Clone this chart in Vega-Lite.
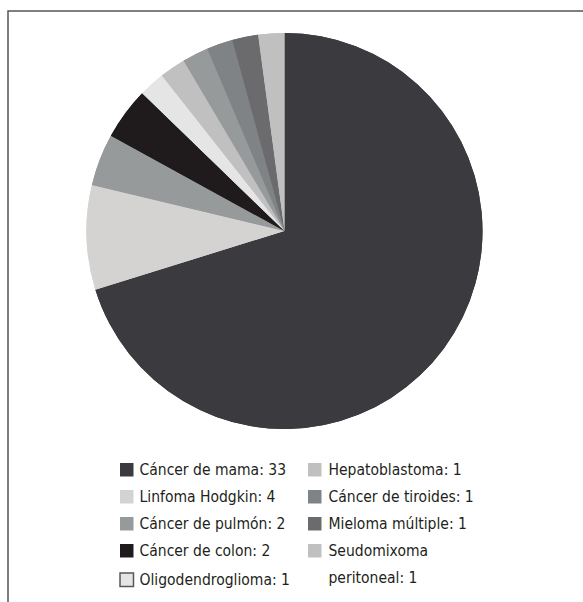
{
  "$schema": "https://vega.github.io/schema/vega-lite/v6.json",
  "autosize": "none",
  "padding": {"left": 8, "top": 11, "right": 0, "bottom": 0},
  "width": 600,
  "height": 620,
  "background": "white",
  "view": {"stroke": "#555555", "strokeWidth": 1.5},
  "data": {
    "values": [
      {"tipo": "Cáncer de mama: 33", "n": 33, "orden": 1},
      {"tipo": "Linfoma Hodgkin: 4", "n": 4, "orden": 2},
      {"tipo": "Cáncer de pulmón: 2", "n": 2, "orden": 3},
      {"tipo": "Cáncer de colon: 2", "n": 2, "orden": 4},
      {"tipo": "Oligodendroglioma: 1", "n": 1, "orden": 5},
      {"tipo": "Hepatoblastoma: 1", "n": 1, "orden": 6},
      {"tipo": "Otro: 1", "n": 1, "orden": 7},
      {"tipo": "Cáncer de tiroides: 1", "n": 1, "orden": 8},
      {"tipo": "Mieloma múltiple: 1", "n": 1, "orden": 9},
      {"tipo": "Seudomixoma peritoneal: 1", "n": 1, "orden": 10}
    ]
  },
  "encoding": {
    "theta": {"field": "n", "type": "quantitative", "stack": true},
    "order": {"field": "orden", "type": "quantitative", "sort": "ascending"}
  },
  "layer": [
    {
      "mark": {"type": "arc", "outerRadius": 198, "x": 276.5, "y": 220},
      "encoding": {
        "color": {
          "field": "tipo",
          "type": "nominal",
          "scale": {
            "domain": ["Cáncer de mama: 33", "Linfoma Hodgkin: 4", "Cáncer de pulmón: 2", "Cáncer de colon: 2", "Oligodendroglioma: 1", "Hepatoblastoma: 1", "Otro: 1", "Cáncer de tiroides: 1", "Mieloma múltiple: 1", "Seudomixoma peritoneal: 1"],
            "range": ["#3b3a3e", "#d4d3d2", "#969a9b", "#1f1b1c", "#e6e5e6", "#c0c0c0", "#969a9b", "#808386", "#6b6b6d", "#c0c0c0"]
          },
          "legend": {
            "title": null,
            "orient": "none",
            "legendX": 111,
            "legendY": 451,
            "direction": "vertical",
            "values": ["Cáncer de mama: 33", "Linfoma Hodgkin: 4", "Cáncer de pulmón: 2", "Cáncer de colon: 2", "Oligodendroglioma: 1"],
            "symbolType": "square",
            "symbolSize": 182,
            "symbolOpacity": 1,
            "symbolStrokeWidth": 0,
            "labelFont": "DejaVu Sans Condensed, Liberation Sans, sans-serif",
            "labelFontSize": 15.5,
            "labelColor": "#231f20",
            "labelOffset": 5,
            "labelLimit": 300,
            "rowPadding": 10,
            "padding": 0,
            "encode": {
              "symbols": {
                "update": {
                  "stroke": {"signal": "datum.value === 'Oligodendroglioma: 1' ? '#58585a' : null"},
                  "strokeWidth": {"signal": "datum.value === 'Oligodendroglioma: 1' ? 1.5 : 0"}
                }
              }
            }
          }
        }
      }
    },
    {
      "mark": {"type": "arc", "outerRadius": 198, "x": 276.5, "y": 220},
      "encoding": {
        "color": {
          "field": "tipo",
          "type": "nominal",
          "scale": {
            "domain": ["Cáncer de mama: 33", "Linfoma Hodgkin: 4", "Cáncer de pulmón: 2", "Cáncer de colon: 2", "Oligodendroglioma: 1", "Hepatoblastoma: 1", "Otro: 1", "Cáncer de tiroides: 1", "Mieloma múltiple: 1", "Seudomixoma peritoneal: 1"],
            "range": ["#3b3a3e", "#d4d3d2", "#969a9b", "#1f1b1c", "#e6e5e6", "#c0c0c0", "#969a9b", "#808386", "#6b6b6d", "#c0c0c0"]
          },
          "legend": {
            "title": null,
            "orient": "none",
            "legendX": 299,
            "legendY": 451,
            "direction": "vertical",
            "values": ["Hepatoblastoma: 1", "Cáncer de tiroides: 1", "Mieloma múltiple: 1", "Seudomixoma peritoneal: 1"],
            "labelExpr": "datum.label == 'Seudomixoma peritoneal: 1' ? ['Seudomixoma', 'peritoneal: 1'] : datum.label",
            "symbolType": "square",
            "symbolSize": 182,
            "symbolOpacity": 1,
            "symbolStrokeWidth": 0,
            "labelFont": "DejaVu Sans Condensed, Liberation Sans, sans-serif",
            "labelFontSize": 15.5,
            "labelColor": "#231f20",
            "labelOffset": 6,
            "labelLimit": 300,
            "rowPadding": 10,
            "padding": 0
          }
        }
      }
    }
  ],
  "resolve": {"scale": {"color": "independent"}},
  "config": {
    "style": {"guide-label": {"lineHeight": 27}}
  }
}
